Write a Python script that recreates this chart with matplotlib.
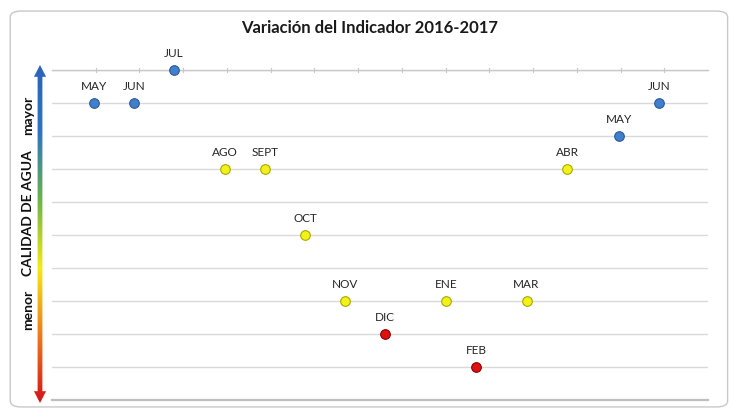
import numpy as np
import matplotlib
matplotlib.use('Agg')
import matplotlib.pyplot as plt
from matplotlib.patches import FancyBboxPatch, Polygon
from matplotlib.colors import LinearSegmentedColormap

plt.rcParams['font.family'] = ['Lato', 'DejaVu Sans']

# Datos: meses de muestreo, posición en el eje y nivel de calidad (0-10)
meses = ['MAY', 'JUN', 'JUL', 'AGO', 'SEPT', 'OCT', 'NOV', 'DIC',
         'ENE', 'FEB', 'MAR', 'ABR', 'MAY', 'JUN']
posicion = [0.96, 1.88, 2.79, 3.96, 4.87, 5.79, 6.70, 7.62,
            9.02, 9.70, 10.85, 11.78, 12.97, 13.89]
nivel = [9, 9, 10, 7, 7, 5, 3, 2, 3, 1, 3, 7, 8, 9]


def color_nivel(v):
    if v >= 8:
        return '#3f7fcc', '#2a5a99'
    if v >= 3:
        return '#f2f21a', '#a8a800'
    return '#e01010', '#8a0000'


fig = plt.figure(figsize=(7.32, 4.09), dpi=100)

# marco redondeado
marco = FancyBboxPatch((0.014, 0.005), 0.98, 0.968,
                       boxstyle='round,pad=0,rounding_size=0.015',
                       transform=fig.transFigure, facecolor='none',
                       edgecolor='#c8c8c8', linewidth=1.0, zorder=-5)
fig.patches.append(marco)

fig.text(0.505, 0.932, 'Variación del Indicador 2016-2017', ha='center',
         va='center', fontsize=12, fontweight='bold', color='#1a1a1a')

ax = fig.add_axes([52 / 732, 1 - 400 / 409, 656 / 732, 330 / 409])
ax.set_xlim(0, 15)
ax.set_ylim(0, 10)
ax.set_facecolor('none')
for s in ['left', 'right']:
    ax.spines[s].set_visible(False)
ax.spines['top'].set_visible(False)
ax.spines['bottom'].set_color('#bfbfbf')
ax.spines['bottom'].set_linewidth(1.6)
ax.set_yticks(np.arange(0, 11))
ax.yaxis.grid(True, color='#d9d9d9', linewidth=1.0)
ax.set_axisbelow(True)
ax.tick_params(axis='y', left=False, labelleft=False)
ax.xaxis.set_ticks_position('none')
ax.set_xticks([])

# eje superior con marcas
ax.plot([0, 15], [10, 10], color='#c8c8c8', linewidth=1.0, zorder=1,
        clip_on=False)
for t in range(1, 15):
    ax.plot([t, t], [9.95, 10.05], color='#c8c8c8', linewidth=0.8,
            zorder=1, clip_on=False)

for m, x, y in zip(meses, posicion, nivel):
    fc, ec = color_nivel(y)
    ax.scatter(x, y, s=48, color=fc, edgecolors=ec, linewidths=0.8,
               zorder=3, clip_on=False)
    ax.annotate(m, (x, y), xytext=(0, 8), textcoords='offset points',
                ha='center', va='bottom', fontsize=8.5, color='#262626')

# flecha con degradado
ax2 = fig.add_axes([32 / 732, 1 - 403 / 409, 16 / 732, 338 / 409])
ax2.set_xlim(0, 1)
ax2.set_ylim(0, 1)
ax2.axis('off')
cmap = LinearSegmentedColormap.from_list(
    'cal', ['#d4141c', '#f07a1a', '#f5ea12', '#6cb54a', '#2e74c4', '#2a64b8'])
grad = np.linspace(0, 1, 256).reshape(-1, 1)
img = ax2.imshow(grad, extent=[0, 1, 0, 1], origin='lower', cmap=cmap,
                 aspect='auto')
h = 0.035
arrow = Polygon([[0.5, 1.0], [0.12, 1 - h], [0.35, 1 - h], [0.35, h],
                 [0.12, h], [0.5, 0.0], [0.88, h], [0.65, h], [0.65, 1 - h],
                 [0.88, 1 - h]], closed=True, transform=ax2.transData,
                facecolor='none', edgecolor='none')
ax2.add_patch(arrow)
img.set_clip_path(arrow)

fig.text(28 / 732, 1 - 115 / 409, 'mayor', rotation=90, ha='center',
         va='center', fontsize=10, fontweight='bold', color='#111111')
fig.text(28 / 732, 1 - 213 / 409, 'CALIDAD DE AGUA', rotation=90,
         ha='center', va='center', fontsize=10, fontweight='bold',
         color='#111111')
fig.text(28 / 732, 1 - 310 / 409, 'menor', rotation=90, ha='center',
         va='center', fontsize=10, fontweight='bold', color='#111111')

fig.savefig('out.png', dpi=100)
